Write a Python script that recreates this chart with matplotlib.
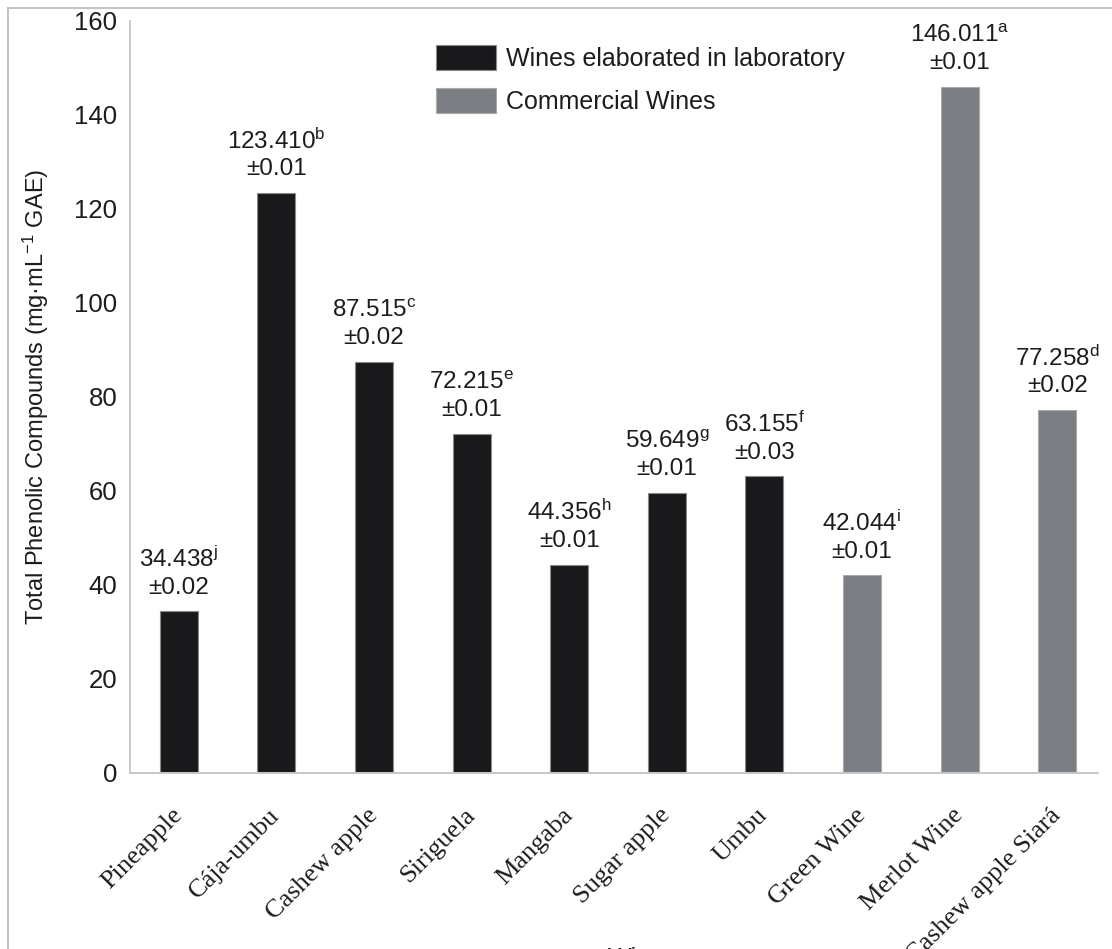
import matplotlib
matplotlib.use("Agg")
import matplotlib.pyplot as plt
from matplotlib.patches import Patch
from matplotlib.lines import Line2D

# Wine samples and their total phenolic content (mg/mL GAE)
categories = ["Pineapple", "Cája-umbu", "Cashew apple", "Siriguela", "Mangaba",
              "Sugar apple", "Umbu", "Green Wine", "Merlot Wine", "Cashew apple Siará"]
phenolics = [34.438, 123.410, 87.515, 72.215, 44.356, 59.649, 63.155, 42.044, 146.011, 77.258]
std_dev = [0.02, 0.01, 0.02, 0.01, 0.01, 0.01, 0.03, 0.01, 0.01, 0.02]
letters = ["j", "b", "c", "e", "h", "g", "f", "i", "a", "d"]
groups = ["lab"] * 7 + ["commercial"] * 3
group_labels = {"lab": "Wines elaborated in laboratory",
                "commercial": "Commercial Wines"}
y_ticks = [0, 20, 40, 60, 80, 100, 120, 140, 160]

group_colors = {"lab": "#19191b", "commercial": "#7b7f83"}
edge_colors = {"lab": "#8a8a8a", "commercial": "#a8aaac"}

plt.rcParams["font.family"] = ["Liberation Sans", "DejaVu Sans"]
plt.rcParams["mathtext.fontset"] = "custom"
plt.rcParams["mathtext.rm"] = "Liberation Sans"
plt.rcParams["mathtext.it"] = "Liberation Sans:italic"
plt.rcParams["mathtext.bf"] = "Liberation Sans:bold"
text_color = "#1c1c1c"

W, H = 1112, 949
fig = plt.figure(figsize=(W / 100, H / 100), dpi=100)
ax = fig.add_axes([130 / W, 176 / H, 976 / W, 752 / H])

x = list(range(len(categories)))
ax.bar(x, phenolics, width=0.39,
       color=[group_colors[g] for g in groups],
       edgecolor=[edge_colors[g] for g in groups], linewidth=0.8, zorder=2)

for i, (v, sd, l) in enumerate(zip(phenolics, std_dev, letters)):
    ax.annotate(f"{v:.3f}$^{{\\mathrm{{{l}}}}}$\n±{sd:.2f}", xy=(i, v),
                xytext=(0, 9), textcoords="offset points",
                ha="center", va="bottom", fontsize=17.5, linespacing=1.28,
                color=text_color, annotation_clip=False)

ax.set_xlim(-0.5, len(categories) - 0.5)
ax.set_ylim(0, 160)
ax.set_yticks(y_ticks)
ax.set_yticklabels([str(t) for t in y_ticks], fontsize=18.5, color=text_color)
ax.set_xticks(x)
ax.set_xticklabels(categories, family=["Liberation Serif", "DejaVu Serif"],
                   fontsize=19, rotation=45, ha="right", va="center",
                   rotation_mode="anchor", color=text_color)
ax.tick_params(axis="y", length=0, pad=9)
ax.tick_params(axis="x", length=0, pad=28)

for side in ("top", "right"):
    ax.spines[side].set_visible(False)
for side in ("left", "bottom"):
    ax.spines[side].set_color("#c8c8c8")
    ax.spines[side].set_linewidth(1.4)
ax.spines["bottom"].set_bounds(-0.5, 9.42)

ax.set_ylabel("Total Phenolic Compounds (mg·mL$^{-1}$ GAE)", fontsize=17,
              color=text_color)
ax.yaxis.set_label_coords(-0.081, 0.5)
ax.set_xlabel("Wines", fontsize=18, color=text_color)
ax.xaxis.set_label_coords(0.525, -0.232)

handles = [Patch(facecolor=group_colors[g], edgecolor=edge_colors[g], linewidth=0.8)
           for g in ("lab", "commercial")]
fig.legend(handles, [group_labels["lab"], group_labels["commercial"]],
           loc="upper left", bbox_to_anchor=(436 / W, 1 - 45 / H),
           bbox_transform=fig.transFigure, frameon=False, fontsize=18,
           borderpad=0, borderaxespad=0, handlelength=2.4, handleheight=1.18,
           handletextpad=0.4, labelspacing=0.66, labelcolor=text_color)

# light frame around the figure
frame_kw = dict(transform=fig.transFigure, color="#c4c4c4", lw=1.5)
fig.add_artist(Line2D([7.5 / W, 7.5 / W], [0, 1 - 7.5 / H], **frame_kw))
fig.add_artist(Line2D([7.5 / W, 1], [1 - 7.5 / H, 1 - 7.5 / H], **frame_kw))

fig.savefig("out.png", dpi=100)
